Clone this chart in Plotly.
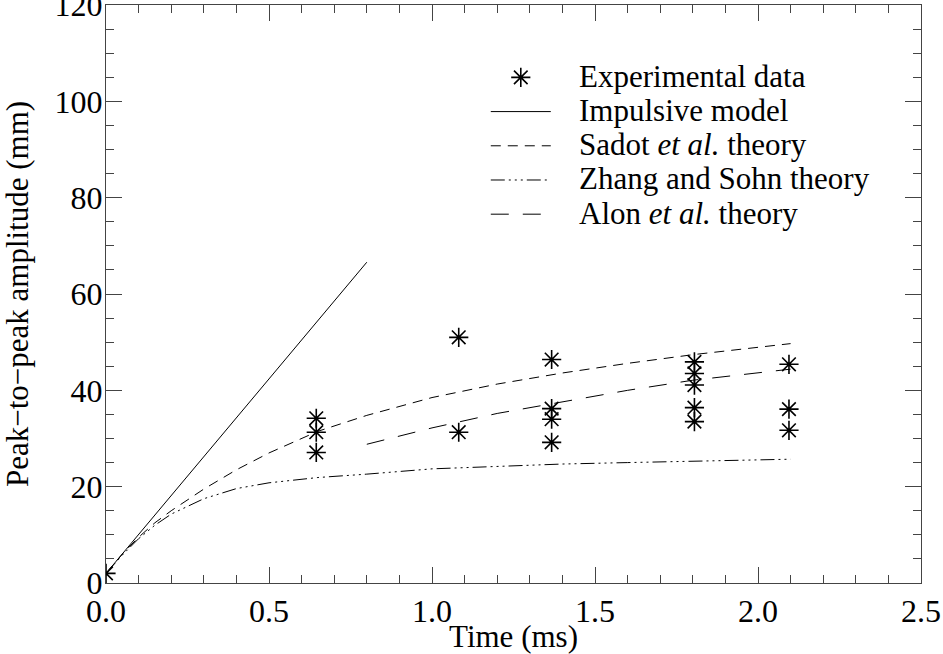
import plotly.graph_objects as go

# Experimental data
exp_t = [0.0, 0.645, 0.645, 0.645, 1.082, 1.082, 1.367, 1.367, 1.367, 1.367,
         1.805, 1.805, 1.805, 1.805, 1.805, 2.095, 2.095, 2.095]
exp_amp = [2.0, 34.2, 31.3, 27.1, 51.0, 31.3, 46.4, 36.2, 34.0, 29.2,
           45.9, 43.5, 41.1, 36.4, 33.5, 45.4, 36.1, 31.7]

# Impulsive model
imp_t = [0.0, 0.8]
imp_amp = [2.0, 66.6]

# Sadot et al. theory
sadot_t = [0.0, 0.05, 0.1, 0.15, 0.2, 0.3, 0.4, 0.5, 0.65, 0.8, 1.0, 1.2, 1.4, 1.6, 1.8, 2.0, 2.1]
sadot_amp = [2.0, 6.0, 9.5, 12.5, 15.0, 19.5, 23.5, 27.0, 31.5, 34.8, 38.5, 41.3, 43.6, 45.6, 47.4, 49.0, 49.7]

# Zhang and Sohn theory
zhang_t = [0.0, 0.05, 0.1, 0.15, 0.2, 0.3, 0.4, 0.5, 0.65, 0.8, 1.0, 1.2, 1.4, 1.6, 1.8, 2.0, 2.1]
zhang_amp = [2.0, 5.8, 9.2, 12.0, 14.3, 17.5, 19.6, 20.8, 21.9, 22.6, 23.7, 24.2, 24.7, 25.0, 25.3, 25.6, 25.7]

# Alon et al. theory
alon_t = [0.8, 1.0, 1.2, 1.4, 1.6, 1.8, 2.0, 2.1]
alon_amp = [28.8, 32.2, 35.2, 37.6, 40.0, 42.1, 43.7, 44.4]

# Legend labels
names = ["Experimental data", "Impulsive model", "Sadot <i>et al.</i> theory",
         "Zhang and Sohn theory", "Alon <i>et al.</i> theory"]

FONT = "Liberation Serif"
PAD = "\u00a0\u00a0\u00a0"


def lab(s):
    return '<span style="font-size:31px">' + PAD + s + "</span>"


fig = go.Figure()
fig.add_trace(go.Scatter(x=exp_t, y=exp_amp, mode="markers", name=lab(names[0]),
                         marker=dict(symbol="asterisk-open", size=16, color="black",
                                     line=dict(color="black", width=1.6))))
fig.add_trace(go.Scatter(x=imp_t, y=imp_amp, mode="lines", name=lab(names[1]),
                         line=dict(color="black", width=1)))
fig.add_trace(go.Scatter(x=sadot_t, y=sadot_amp, mode="lines", name=lab(names[2]),
                         line=dict(color="black", width=1, dash="10px,7px")))
fig.add_trace(go.Scatter(x=zhang_t, y=zhang_amp, mode="lines", name=lab(names[3]),
                         line=dict(color="black", width=1,
                                   dash="14px,4px,2px,4px,2px,4px,2px,4px")))
fig.add_trace(go.Scatter(x=alon_t, y=alon_amp, mode="lines", name=lab(names[4]),
                         line=dict(color="black", width=1, dash="18px,14px")))

axis_common = dict(showline=True, linecolor="#444", linewidth=1, mirror="ticks",
                   ticks="inside", ticklen=16, tickcolor="#444", showgrid=False,
                   zeroline=False, automargin=False, ticklabeloverflow="allow",
                   tickfont=dict(family=FONT, size=32, color="black"))

fig.update_xaxes(range=[0, 2.5], dtick=0.5, tick0=0, tickformat=".1f",
                 minor=dict(ticks="inside", ticklen=8, dtick=0.1, tickcolor="#444"),
                 title=dict(text="Time (ms)", font=dict(family=FONT, size=31, color="black")),
                 **axis_common)
fig.update_yaxes(range=[0, 120], dtick=20, tick0=0, ticklabelstandoff=-4,
                 minor=dict(ticks="inside", ticklen=8, dtick=5, tickcolor="#444"),
                 title=dict(text="Peak\u2212to\u2212peak amplitude (mm)",
                            font=dict(family=FONT, size=31, color="black"),
                            standoff=70),
                 **axis_common)

fig.update_layout(
    width=943, height=654,
    margin=dict(l=106, r=22, t=5, b=71),
    plot_bgcolor="white", paper_bgcolor="white",
    font=dict(family=FONT, color="black"),
    legend=dict(x=0.466, y=0.913, xanchor="left", yanchor="top",
                font=dict(family=FONT, size=24, color="black"),
                bgcolor="rgba(0,0,0,0)", itemwidth=60, tracegroupgap=0),
    showlegend=True,
)

fig.write_html("out.html", config={"displayModeBar": False},
               post_script="document.body.style.margin='0';document.body.style.padding='0';")
